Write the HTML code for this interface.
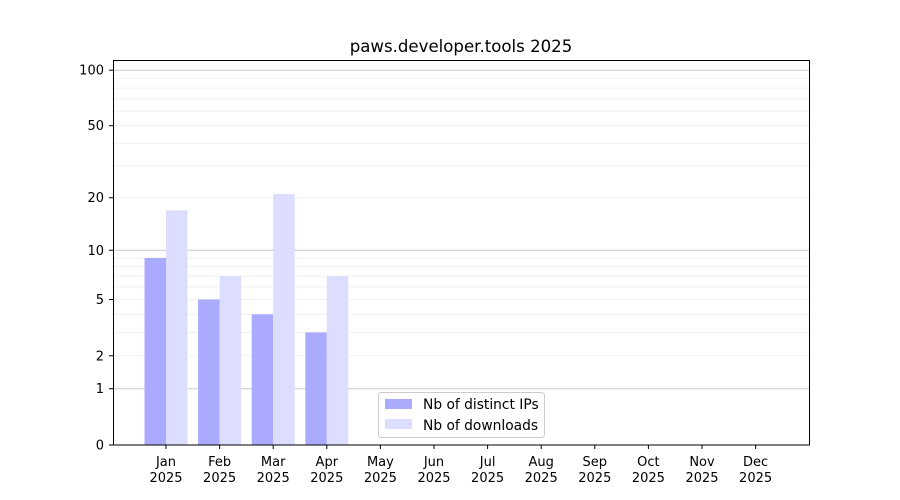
<!DOCTYPE html>
<html><head><style>body{margin:0;background:#fff}svg{display:block}text{font-family:"DejaVu Sans","Liberation Sans",sans-serif;fill:#000}</style></head>
<body>
<svg width="900" height="500" xmlns="http://www.w3.org/2000/svg">
<rect width="900" height="500" fill="#fff"/>
<g id="grid"></g>
<g id="bars"></g>
<rect x="113.5" y="60.5" width="696" height="384.5" fill="none" stroke="#000" stroke-width="1"/>
<g id="ticks" font-size="13"></g>
<text x="461" y="52" font-size="16.6" text-anchor="middle">paws.developer.tools 2025</text>
<g>
<rect x="378.5" y="392.5" width="166" height="45" rx="3" fill="#fff" fill-opacity="0.8" stroke="#ccc"/>
<rect x="385" y="399" width="27" height="10" fill="#aaaaff"/>
<text x="423" y="409" font-size="13.8">Nb of distinct IPs</text>
<rect x="385" y="419" width="27" height="10" fill="#ddddff"/>
<text x="423" y="430" font-size="13.8">Nb of downloads</text>
</g>
<script>
const ns="http://www.w3.org/2000/svg";
const Y=v=>445-187*Math.log10(1+v);
function el(p,t,a,txt){const e=document.createElementNS(ns,t);for(const k in a)e.setAttribute(k,a[k]);if(txt!==undefined)e.textContent=txt;document.getElementById(p).appendChild(e);}
const minor=[2,3,4,5,6,7,8,9,20,30,40,50,60,70,80,90];
minor.forEach(v=>{const y=Y(v);el('grid','line',{x1:113,x2:810,y1:y,y2:y,stroke:'#eee','stroke-width':0.8});});
[1,10,100].forEach(v=>{const y=Y(v);el('grid','line',{x1:113,x2:810,y1:y,y2:y,stroke:'#ccc','stroke-width':1});});
const ip=[9,5,4,3],dl=[17,7,21,7];
const cx=i=>166+i*53.6;
ip.forEach((v,i)=>{el('bars','rect',{x:cx(i)-21.5,y:Y(v),width:21.5,height:445-Y(v),fill:'#aaaaff'});});
dl.forEach((v,i)=>{el('bars','rect',{x:cx(i),y:Y(v),width:21.5,height:445-Y(v),fill:'#ddddff'});});
[0,1,2,5,10,20,50,100].forEach(v=>{const y=Y(v);el('ticks','line',{x1:109,x2:113,y1:y,y2:y,stroke:'#000'});el('ticks','text',{x:104,y:y+4.5,'text-anchor':'end'},v);});
['Jan','Feb','Mar','Apr','May','Jun','Jul','Aug','Sep','Oct','Nov','Dec'].forEach((m,i)=>{const x=cx(i);el('ticks','line',{x1:x,x2:x,y1:445,y2:449,stroke:'#000'});el('ticks','text',{x:x,y:466,'text-anchor':'middle'},m);el('ticks','text',{x:x,y:482,'text-anchor':'middle'},'2025');});
</script>
</svg>
</body></html>
